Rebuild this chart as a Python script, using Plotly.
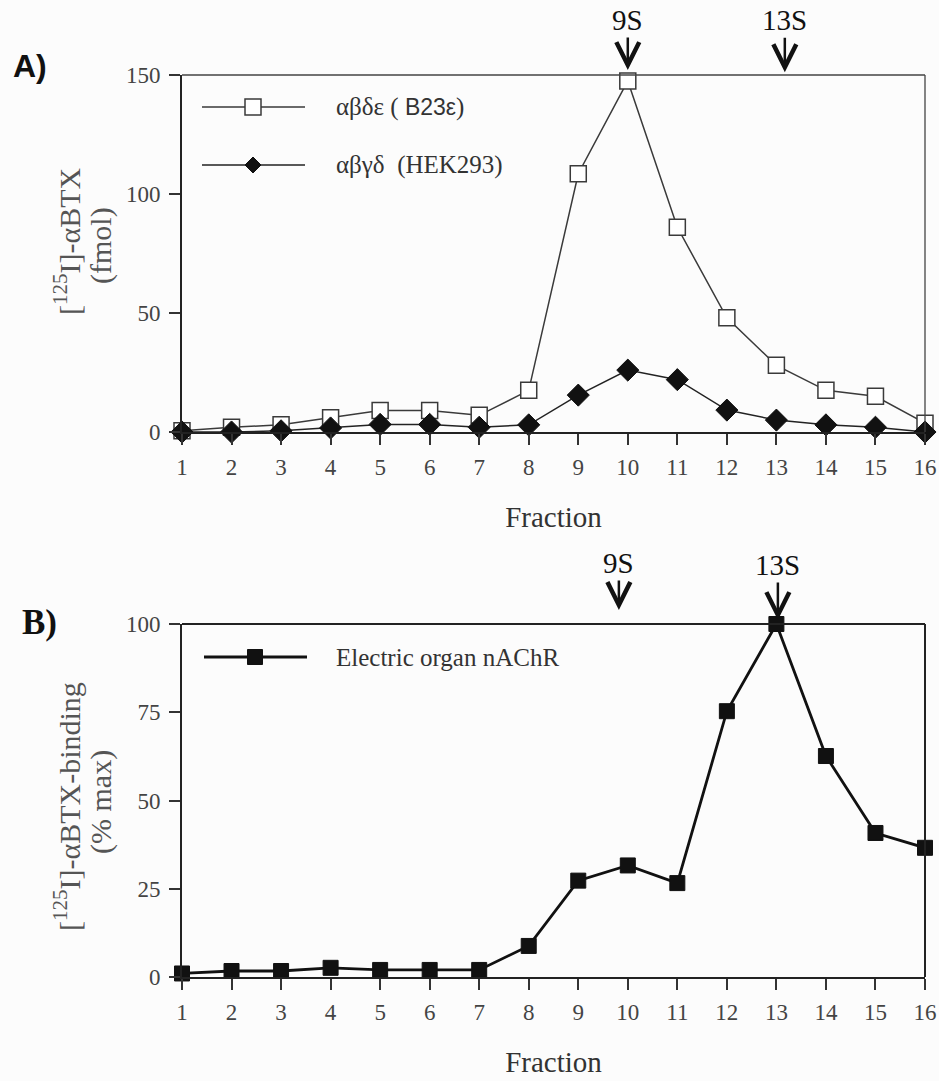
import plotly.graph_objects as go

# ---------------- data ----------------
fractions = list(range(1, 17))
b23e_fmol = [0.5, 2, 3, 6, 9, 9, 7, 17.5, 108.5, 147.5, 86, 48, 28, 17.5, 15, 3.7]
hek293_fmol = [0, 0, 0.5, 1.7, 3.2, 3.2, 2, 3, 15.5, 26, 22, 9.2, 5, 3, 2, 0]
organ_pct = [1, 1.7, 1.7, 2.6, 2, 2, 2, 8.8, 27.3, 31.6, 26.6, 75.3, 100, 62.6, 40.8, 36.6]
tick_labels = [str(f) for f in fractions]
top_yticks = [0, 50, 100, 150]
bottom_yticks = [0, 25, 50, 75, 100]
sed_top = [("9S", 10.0), ("13S", 13.17)]
sed_bottom = [("9S", 9.82), ("13S", 13.03)]

W, H = 939, 1081
SERIF = "Liberation Serif"
SANS = "Liberation Sans"
BG = "#fcfcfc"

def px(x):
    return x / W

def py(y):
    return 1 - y / H

x_dom = [px(182), px(925)]
top_dom = [py(432), py(75)]
bot_dom = [py(977), py(624)]

fig = go.Figure()

fig.add_trace(go.Scatter(
    x=fractions, y=b23e_fmol, mode="lines+markers", xaxis="x", yaxis="y",
    line=dict(color="#3a3a3a", width=1.5),
    marker=dict(symbol="square", size=16, color="white", line=dict(color="#3a3a3a", width=1.5)),
    cliponaxis=False, showlegend=False))
fig.add_trace(go.Scatter(
    x=fractions, y=hek293_fmol, mode="lines+markers", xaxis="x", yaxis="y",
    line=dict(color="#222", width=1.5),
    marker=dict(symbol="diamond", size=17, color="#111", line=dict(color="#111", width=1)),
    cliponaxis=False, showlegend=False))
fig.add_trace(go.Scatter(
    x=fractions, y=organ_pct, mode="lines+markers", xaxis="x2", yaxis="y2",
    line=dict(color="#111", width=2.8),
    marker=dict(symbol="square", size=15, color="#111", line=dict(color="#111", width=1)),
    cliponaxis=False, showlegend=False))

tickfont = dict(family=SERIF, size=23, color="#444")
common_x = dict(range=[1, 16], tickmode="array", tickvals=fractions, ticktext=tick_labels,
                showline=True, linecolor="#222", linewidth=2, ticks="outside", ticklen=11,
                tickwidth=2, tickcolor="#333", showgrid=False, zeroline=False,
                tickfont=tickfont, domain=x_dom, ticklabelstandoff=2,
                title=dict(text="Fraction", font=dict(family=SERIF, size=29, color="#333"), standoff=28))
common_y = dict(showline=True, linecolor="#222", linewidth=2, ticks="outside", ticklen=11,
                tickwidth=2, tickcolor="#333", showgrid=False, zeroline=False,
                tickfont=tickfont, tickmode="array", ticklabelstandoff=4)

fig.update_layout(
    width=W, height=H, margin=dict(l=0, r=0, t=0, b=0, autoexpand=False),
    paper_bgcolor=BG, plot_bgcolor=BG,
    xaxis=dict(anchor="y", **common_x),
    yaxis=dict(anchor="x", domain=top_dom, range=[0, 150], tickvals=top_yticks,
               ticktext=[str(v) for v in top_yticks], **common_y),
    xaxis2=dict(anchor="y2", **common_x),
    yaxis2=dict(anchor="x2", domain=bot_dom, range=[0, 100], tickvals=bottom_yticks,
                ticktext=[str(v) for v in bottom_yticks], **common_y),
)

shapes = []
# frame top/right lines
shapes.append(dict(type="line", xref="x domain", yref="y domain", x0=0, x1=1, y0=1, y1=1,
                   line=dict(color="#444", width=1.3)))
shapes.append(dict(type="line", xref="x domain", yref="y domain", x0=1, x1=1, y0=0, y1=1,
                   line=dict(color="#444", width=1.3)))
shapes.append(dict(type="line", xref="x2 domain", yref="y2 domain", x0=0, x1=1, y0=1, y1=1,
                   line=dict(color="#222", width=2)))
shapes.append(dict(type="line", xref="x2 domain", yref="y2 domain", x0=1, x1=1, y0=0, y1=1,
                   line=dict(color="#222", width=2)))

# manual legend keys
def legend_line(y, x0, x1, color, width):
    shapes.append(dict(type="line", xref="paper", yref="paper", x0=px(x0), x1=px(x1),
                       y0=py(y), y1=py(y), line=dict(color=color, width=width)))

def legend_square(xc, y, half, fill, lc, lw):
    shapes.append(dict(type="rect", xref="paper", yref="paper", xsizemode="pixel", ysizemode="pixel",
                       xanchor=px(xc), yanchor=py(y), x0=-half, x1=half, y0=-half, y1=half,
                       fillcolor=fill, line=dict(color=lc, width=lw)))

def legend_diamond(xc, y, r, color):
    shapes.append(dict(type="path", xref="paper", yref="paper", xsizemode="pixel", ysizemode="pixel",
                       xanchor=px(xc), yanchor=py(y),
                       path=f"M0,{r} L{r},0 L0,{-r} L{-r},0 Z",
                       fillcolor=color, line=dict(color=color, width=1)))

legend_line(107, 202, 305, "#3a3a3a", 1.5)
legend_square(253, 107, 8, "white", "#3a3a3a", 1.5)
legend_line(165, 202, 305, "#222", 1.5)
legend_diamond(253, 165, 8, "#111")
legend_line(657, 204, 307, "#111", 2.8)
legend_square(255, 657, 7.5, "#111", "#111", 1)

fig.update_layout(shapes=shapes)

ann = []
legfont = dict(family=SERIF, size=25, color="#333")
ann.append(dict(xref="paper", yref="paper", x=px(334), y=py(107), xanchor="left", yanchor="middle",
                text="αβδε ( <span style='font-family:Liberation Sans;font-size:23px'>B23ε</span>)",
                showarrow=False, font=legfont))
ann.append(dict(xref="paper", yref="paper", x=px(334), y=py(165), xanchor="left", yanchor="middle",
                text="αβγδ  (HEK293)", showarrow=False, font=legfont))
ann.append(dict(xref="paper", yref="paper", x=px(334), y=py(657), xanchor="left", yanchor="middle",
                text="Electric organ nAChR", showarrow=False, font=legfont))

# panel labels
ann.append(dict(xref="paper", yref="paper", x=px(11), y=py(66), xanchor="left", yanchor="middle",
                text="<b>A)</b>", showarrow=False, font=dict(family=SANS, size=32, color="#111")))
ann.append(dict(xref="paper", yref="paper", x=px(20), y=py(622), xanchor="left", yanchor="middle",
                text="<b>B)</b>", showarrow=False, font=dict(family=SERIF, size=35, color="#111")))

# y-axis titles
ytfont = dict(family=SERIF, size=30, color="#555")
ann.append(dict(xref="paper", yref="paper", x=px(67), y=py(241), textangle=-90,
                xanchor="center", yanchor="middle",
                text="[<sup>125</sup>I]-αBTX", showarrow=False, font=ytfont))
ann.append(dict(xref="paper", yref="paper", x=px(101), y=py(246), textangle=-90,
                xanchor="center", yanchor="middle",
                text="(fmol)", showarrow=False, font=ytfont))
ann.append(dict(xref="paper", yref="paper", x=px(67), y=py(807), textangle=-90,
                xanchor="center", yanchor="middle",
                text="[<sup>125</sup>I]-αBTX-binding", showarrow=False, font=ytfont))
ann.append(dict(xref="paper", yref="paper", x=px(101), y=py(802), textangle=-90,
                xanchor="center", yanchor="middle",
                text="(% max)", showarrow=False, font=ytfont))

# sedimentation markers
sfont = dict(family=SERIF, size=29, color="#111")
tips_top = {"9S": (1.014, -50), "13S": (1.008, -52)}
for lab, xv in sed_top:
    yv, ay = tips_top[lab]
    ann.append(dict(x=xv, y=yv, xref="x", yref="y domain", text=lab, showarrow=True,
                    arrowhead=5, arrowsize=1.8, arrowwidth=2.5, arrowcolor="#111",
                    ax=0, ay=ay, font=sfont))
tips_bot = {"9S": (1.04, -47), "13S": (1.011, -55)}
for lab, xv in sed_bottom:
    yv, ay = tips_bot[lab]
    ann.append(dict(x=xv, y=yv, xref="x2", yref="y2 domain", text=lab, showarrow=True,
                    arrowhead=5, arrowsize=1.8, arrowwidth=2.5, arrowcolor="#111",
                    ax=0, ay=ay, font=sfont))

fig.update_layout(annotations=ann)

fig.write_html("out.html")
